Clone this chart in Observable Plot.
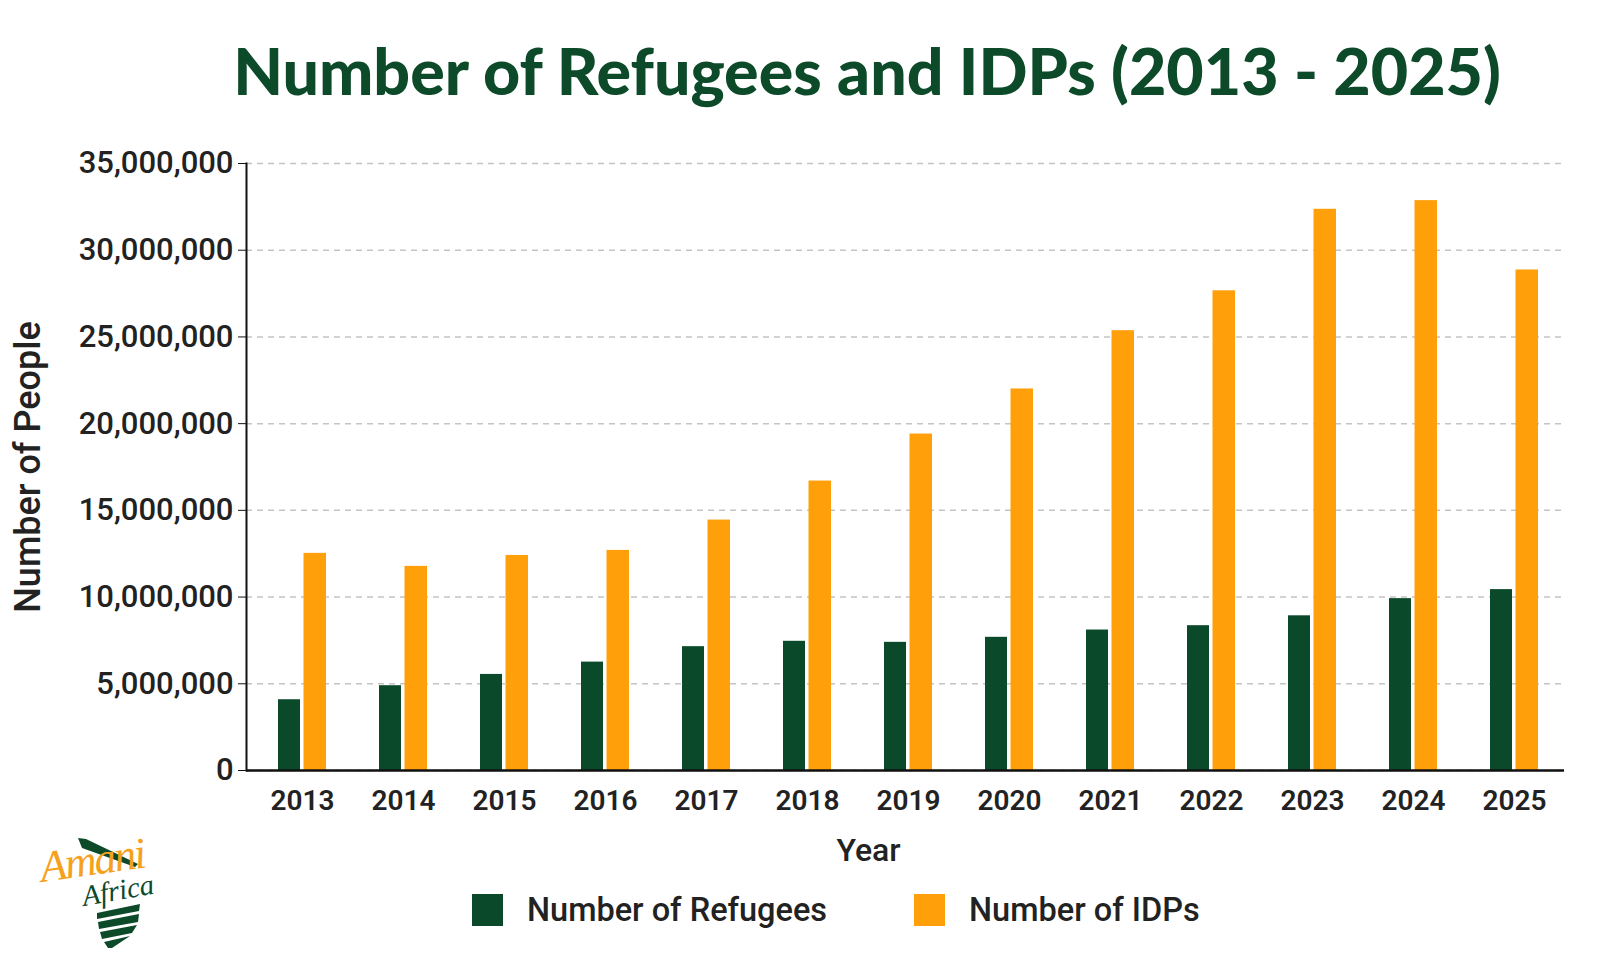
<!DOCTYPE html>
<html>
<head>
<meta charset="utf-8">
<script src="https://cdn.jsdelivr.net/npm/d3@7"></script>
<script src="https://cdn.jsdelivr.net/npm/@observablehq/plot@0.6"></script>
<style>
  body {
    margin: 0;
    width: 1619px;
    height: 971px;
    overflow: hidden;
    position: relative;
    background: #fff;
    font-family: Roboto, sans-serif;
  }
  #title {
    position: absolute;
    top: 38px;
    left: 0;
    width: 1734px;
    text-align: center;
    margin: 0;
    font-family: Lato, sans-serif;
    font-weight: 900;
    font-size: 64.5px;
    line-height: 1;
    color: #0d4a2a;
  }
  #chart {
    position: absolute;
    top: 130px;
    left: 0;
  }
  #legend {
    position: absolute;
    top: 891px;
    left: 472px;
    display: flex;
    align-items: center;
    font-size: 32.5px;
    font-weight: 500;
    color: #222;
  }
  .item { display: flex; align-items: center; margin-right: 87px; }
  .swatch { width: 31px; height: 32px; margin-right: 24px; }
  #logo { position: absolute; left: 20px; top: 818px; }
</style>
</head>
<body>
<h1 id="title">Number of Refugees and IDPs (2013 - 2025)</h1>
<div id="chart"></div>
<div id="legend"></div>
<svg id="logo" width="160" height="140" viewBox="0 0 160 140">
  <polygon points="58,20 66,21 118,46 115,49 62,30" fill="#0d4a2a"/>
  <text x="22" y="64" font-family="Liberation Serif, serif" font-style="italic" font-size="44" fill="#f5a11c" letter-spacing="-2" transform="rotate(-8 22 64)">Amani</text>
  <text x="64" y="88" font-family="Liberation Serif, serif" font-style="italic" font-size="29" fill="#0d4a2a" transform="rotate(-10 64 88)">Africa</text>
  <polygon points="77,95 120,86 119,93 77,101" fill="#0d4a2a"/>
  <polygon points="78,104 119,96 118,104 79,111" fill="#0d4a2a"/>
  <polygon points="80,114 117,107 112,115 82,121" fill="#0d4a2a"/>
  <polygon points="84,124 110,118 92,130 88,130" fill="#0d4a2a"/>
</svg>
<script>
const years = ["2013", "2014", "2015", "2016", "2017", "2018", "2019", "2020", "2021", "2022", "2023", "2024", "2025"];
const refugees = [4080000, 4890000, 5540000, 6250000, 7140000, 7450000, 7390000, 7680000, 8100000, 8350000, 8920000, 9910000, 10430000];
const idps = [12520000, 11770000, 12400000, 12690000, 14440000, 16690000, 19400000, 22000000, 25360000, 27660000, 32360000, 32860000, 28860000];
const yTicks = [0, 5000000, 10000000, 15000000, 20000000, 25000000, 30000000, 35000000];
const seriesNames = ["Number of Refugees", "Number of IDPs"];
const seriesColors = ["#0a4a2a", "#ff9f0a"];

const rows = years.map((year, i) => ({year, refugees: refugees[i], idps: idps[i]}));

const chart = Plot.plot({
  width: 1619,
  height: 740,
  marginLeft: 246,
  marginRight: 55,
  marginTop: 33,
  marginBottom: 100,
  style: {fontFamily: "Roboto, sans-serif", color: "#222", background: "transparent", overflow: "visible"},
  x: {type: "band", domain: years, paddingInner: 0.52, paddingOuter: 0.27, align: 0.55},
  y: {domain: [0, 35000000]},
  marks: [
    Plot.gridY(yTicks, {stroke: "#c4c4c4", strokeOpacity: 1, strokeWidth: 1.5, strokeDasharray: "6,5"}),
    Plot.barY(rows, {x: "year", y: "refugees", fill: seriesColors[0], insetRight: 26}),
    Plot.barY(rows, {x: "year", y: "idps", fill: seriesColors[1], insetLeft: 25.5}),
    Plot.ruleY([0], {stroke: "#111", strokeWidth: 2.5}),
    Plot.frame({anchor: "left", stroke: "#111", strokeWidth: 2}),
    Plot.axisY(yTicks, {
      tickSize: 8,
      tickPadding: 5,
      tickFormat: d3.format(","),
      fontSize: 31,
      fontWeight: 500,
      stroke: "#111",
      label: null
    }),
    Plot.axisY({
      ticks: [],
      label: "Number of People",
      labelAnchor: "center",
      labelArrow: "none",
      labelOffset: 232,
      fontSize: 36,
      fontWeight: 500
    }),
    Plot.axisX({tickSize: 0, tickPadding: 20, fontSize: 28, fontWeight: 600, label: null}),
    // axis title sits at the page centre rather than the frame centre
    Plot.text(["Year"], {frameAnchor: "bottom", dx: -37, dy: 80, fontSize: 32, fontWeight: 500, lineAnchor: "middle"})
  ]
});
document.getElementById("chart").appendChild(chart);

// legend below the plot
const legend = document.getElementById("legend");
seriesNames.forEach((name, i) => {
  const item = document.createElement("div");
  item.className = "item";
  item.innerHTML = `<div class="swatch" style="background:${seriesColors[i]}"></div><span>${name}</span>`;
  legend.appendChild(item);
});
</script>
</body>
</html>
